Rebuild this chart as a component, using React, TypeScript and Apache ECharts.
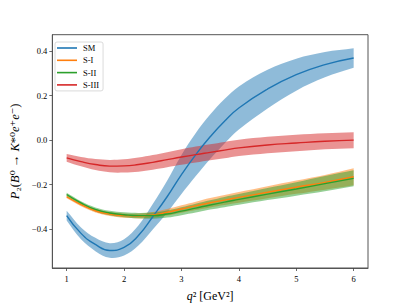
import React, { useEffect, useRef } from "react";
import * as echarts from "echarts";

const xs = [1, 1.25, 1.5, 1.75, 2, 2.25, 2.5, 2.75, 3, 3.25, 3.5, 3.75, 4, 4.5, 5, 5.5, 6];

const smCentral = [-0.34, -0.42, -0.47, -0.497, -0.483, -0.43, -0.345, -0.255, -0.155, -0.065, 0.015, 0.085, 0.145, 0.23, 0.295, 0.34, 0.37];
const smLower = [-0.362, -0.447, -0.5, -0.53, -0.52, -0.475, -0.402, -0.327, -0.243, -0.162, -0.085, -0.015, 0.048, 0.143, 0.223, 0.283, 0.326];
const smUpper = [-0.318, -0.393, -0.44, -0.464, -0.446, -0.385, -0.288, -0.183, -0.067, 0.032, 0.115, 0.185, 0.242, 0.317, 0.367, 0.397, 0.414];

const s1Central = [-0.255, -0.29, -0.318, -0.333, -0.34, -0.342, -0.337, -0.325, -0.31, -0.296, -0.282, -0.27, -0.258, -0.235, -0.212, -0.19, -0.165];
const s1Lower = [-0.262, -0.298, -0.326, -0.342, -0.35, -0.353, -0.35, -0.34, -0.327, -0.315, -0.303, -0.292, -0.282, -0.262, -0.242, -0.223, -0.203];
const s1Upper = [-0.248, -0.283, -0.31, -0.324, -0.33, -0.331, -0.324, -0.31, -0.293, -0.277, -0.261, -0.247, -0.234, -0.208, -0.182, -0.157, -0.127];

const s2Central = [-0.245, -0.283, -0.312, -0.328, -0.336, -0.34, -0.34, -0.333, -0.32, -0.306, -0.292, -0.279, -0.267, -0.243, -0.22, -0.196, -0.172];
const s2Lower = [-0.253, -0.291, -0.321, -0.338, -0.347, -0.352, -0.354, -0.349, -0.338, -0.326, -0.313, -0.302, -0.291, -0.27, -0.25, -0.23, -0.208];
const s2Upper = [-0.237, -0.275, -0.303, -0.318, -0.325, -0.328, -0.326, -0.317, -0.302, -0.286, -0.271, -0.256, -0.243, -0.216, -0.19, -0.162, -0.136];

const s3Central = [-0.08, -0.097, -0.11, -0.117, -0.116, -0.11, -0.1, -0.088, -0.076, -0.065, -0.055, -0.045, -0.035, -0.022, -0.013, -0.005, 0.0];
const s3Lower = [-0.097, -0.118, -0.135, -0.145, -0.146, -0.142, -0.133, -0.122, -0.111, -0.101, -0.091, -0.082, -0.072, -0.059, -0.05, -0.041, -0.036];
const s3Upper = [-0.063, -0.076, -0.085, -0.089, -0.086, -0.078, -0.067, -0.054, -0.041, -0.029, -0.019, -0.008, 0.002, 0.015, 0.024, 0.031, 0.036];

const seriesNames = ["SM", "S-I", "S-II", "S-III"];
const seriesColors = ["#1f77b4", "#ff7f0e", "#2ca02c", "#d62728"];
const xTicks = [1, 2, 3, 4, 5, 6];
const yTicks = [-0.4, -0.2, 0, 0.2, 0.4];

const FONT = "'Liberation Serif', 'DejaVu Serif', serif";

function bandSeries(name: string, lo: number[], up: number[], color: string) {
  return {
    type: "custom",
    name: name + " band",
    silent: true,
    z: 1,
    data: xs.map((x, i) => [x, lo[i], up[i]]),
    encode: { x: 0, y: [1, 2] },
    renderItem: (params: any, api: any) => {
      if (params.dataIndex !== 0) return null;
      const n = xs.length;
      const upperPts = xs.map((x, i) => api.coord([x, up[i]]));
      const lowerPts = xs.map((x, i) => api.coord([x, lo[i]]));
      // corners are doubled so the closed smooth outline keeps straight ends
      const pts: number[][] = [upperPts[0]];
      upperPts.forEach((p) => pts.push(p));
      pts.push(upperPts[n - 1]);
      for (let i = n - 1; i >= 0; i--) pts.push(lowerPts[i]);
      pts.splice(pts.length - n, 0, lowerPts[n - 1]);
      pts.push(lowerPts[0]);
      return {
        type: "polygon",
        shape: { points: pts, smooth: 0.35 },
        style: { fill: color, opacity: 0.5 },
      };
    },
  };
}

function lineSeries(name: string, c: number[], color: string) {
  return {
    type: "line",
    name,
    data: xs.map((x, i) => [x, c[i]]),
    smooth: true,
    symbol: "none",
    showSymbol: false,
    lineStyle: { width: 1.4, color },
    itemStyle: { color },
    z: 3,
  };
}

export default function App() {
  const ref = useRef<HTMLDivElement>(null);
  useEffect(() => {
    if (!ref.current) return;
    const chart = echarts.init(ref.current, null, { renderer: "svg" });
    const centrals = [smCentral, s1Central, s2Central, s3Central];
    const lowers = [smLower, s1Lower, s2Lower, s3Lower];
    const uppers = [smUpper, s1Upper, s2Upper, s3Upper];
    const bands: any[] = [];
    const lines: any[] = [];
    seriesNames.forEach((n, k) => {
      bands.push(bandSeries(n, lowers[k], uppers[k], seriesColors[k]));
      lines.push(lineSeries(n, centrals[k], seriesColors[k]));
    });
    chart.setOption({
      animation: false,
      backgroundColor: "#ffffff",
      textStyle: { fontFamily: FONT },
      grid: {
        left: 50.7,
        right: 41,
        top: 34.7,
        bottom: 33.7,
        show: true,
        borderColor: "#555",
        borderWidth: 1,
        backgroundColor: "transparent",
      },
      legend: {
        data: seriesNames,
        orient: "vertical",
        left: 55,
        top: 42,
        icon: "rect",
        itemWidth: 20,
        itemHeight: 1.6,
        itemGap: 2.3,
        padding: [1, 4, 1, 2],
        borderColor: "#d0d0d0",
        borderWidth: 0.8,
        borderRadius: 2,
        backgroundColor: "rgba(255,255,255,0.8)",
        textStyle: { fontFamily: FONT, fontSize: 8.5, color: "#000", lineHeight: 10, padding: [0, 0, 0, 1] },
      },
      xAxis: {
        type: "value",
        min: 0.75,
        max: 6.25,
        name: "{i|q}² [GeV²]",
        nameLocation: "middle",
        nameGap: 22,
        nameTextStyle: {
          fontFamily: FONT,
          fontSize: 12,
          color: "#000",
          rich: { i: { fontStyle: "italic", fontFamily: FONT, fontSize: 12, color: "#000" } },
        },
        axisLine: { show: true, onZero: false, lineStyle: { color: "#555", width: 1 } },
        splitLine: { show: false },
        axisTick: { show: true, length: 3, lineStyle: { color: "#444", width: 0.8 }, customValues: xTicks },
        axisLabel: {
          customValues: xTicks,
          margin: 6,
          fontSize: 8.5,
          color: "#000",
          fontFamily: FONT,
          formatter: (v: number) => String(v),
        },
      },
      yAxis: {
        type: "value",
        min: -0.576,
        max: 0.475,
        name: "{i|P}₂({i|B}⁰ → {i|K}*⁰{i|e}⁺{i|e}⁻)",
        nameLocation: "middle",
        nameRotate: 90,
        nameGap: 27,
        nameTextStyle: {
          fontFamily: FONT,
          fontSize: 12.5,
          color: "#000",
          rich: { i: { fontStyle: "italic", fontFamily: FONT, fontSize: 12.5, color: "#000" } },
        },
        axisLine: { show: true, onZero: false, lineStyle: { color: "#555", width: 1 } },
        splitLine: { show: false },
        axisTick: { show: true, length: 3, lineStyle: { color: "#444", width: 0.8 }, customValues: yTicks },
        axisLabel: {
          customValues: yTicks,
          margin: 5,
          fontSize: 8.5,
          color: "#000",
          fontFamily: FONT,
          formatter: (v: number) => v.toFixed(1).replace("-", "−"),
        },
      },
      series: [...bands, ...lines],
    });
    return () => chart.dispose();
  }, []);
  return <div ref={ref} style={{ width: 409, height: 307, position: "absolute", left: 0, top: 0 }} />;
}
